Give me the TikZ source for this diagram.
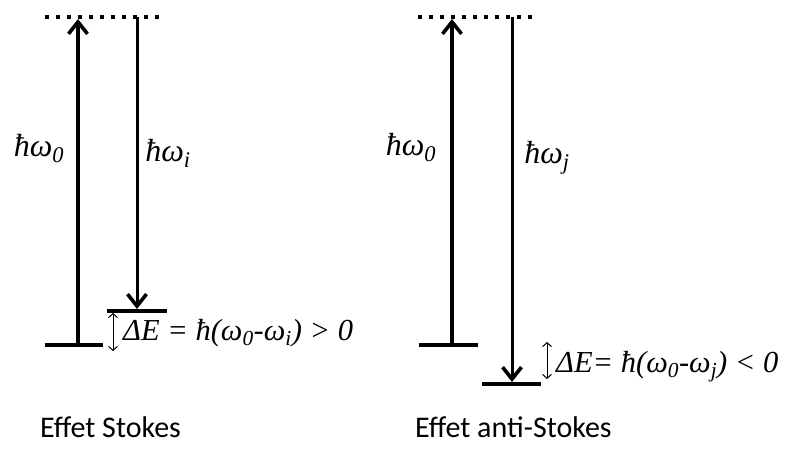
\documentclass[tikz,border=0pt]{standalone}
\usepackage{fontspec}
\setmainfont{Liberation Serif}
\newfontfamily\calibrifont{Carlito}
\usetikzlibrary{arrows.meta}
\tikzset{
  virt/.style={line width=4pt, dash pattern=on 4pt off 7pt},
  level/.style={line width=4pt},
  photon/.style={line width=3.6pt, -{Straight Barb[length=12pt,width=19pt,line width=3.6pt]}},
  gap/.style={line width=1pt, {Straight Barb[length=4pt,width=9pt]}-{Straight Barb[length=4pt,width=9pt]}},
  eq/.style={font=\fontsize{30.5}{32}\selectfont\rmfamily\itshape, inner sep=0pt},
  lab/.style={font=\fontsize{32}{34}\selectfont\rmfamily\itshape, inner sep=0pt},
  captiontext/.style={font=\fontsize{30}{32}\selectfont\calibrifont, inner sep=0pt}
}
\begin{document}
\begin{tikzpicture}[x=1pt,y=-1pt]
\useasboundingbox (0,0) rectangle (791,455);
% ---------- Stokes ----------
\coordinate (vs1) at (45,17);
\coordinate (vs2) at (162,17);
\draw[virt] (vs1) -- (vs2);
\coordinate (gs1) at (45,345);
\coordinate (gs2) at (103,345);
\draw[level] (gs1) -- (gs2);
\coordinate (fs1) at (107,311);
\coordinate (fs2) at (167,311);
\draw[level] (fs1) -- (fs2);
\coordinate (us0) at (78,345);
\coordinate (us1) at (78,19);
\draw[photon] (us0) -- (us1);
\coordinate (ds0) at (137,17);
\coordinate (ds1) at (137,309);
\draw[photon, line width=3pt] (ds0) -- (ds1);
\coordinate (ks0) at (113,313);
\coordinate (ks1) at (113,351);
\draw[gap] (ks0) -- (ks1);
\node[eq, anchor=base west] (des) at (123,340) {ΔE = ħ(ω\textsubscript{0}-ω\textsubscript{i}) > 0};
\node[lab, anchor=base] (h0s) at (39,156) {ħω\textsubscript{0}};
\node[lab, anchor=base] (his) at (168,161) {ħω\textsubscript{i}};
\node[captiontext, anchor=west] (ts) at (40,427) {Effet Stokes};
% ---------- anti-Stokes ----------
\coordinate (va1) at (418,17);
\coordinate (va2) at (534,17);
\draw[virt] (va1) -- (va2);
\coordinate (ga1) at (419,345);
\coordinate (ga2) at (478,345);
\draw[level] (ga1) -- (ga2);
\coordinate (fa1) at (482,384);
\coordinate (fa2) at (541,384);
\draw[level] (fa1) -- (fa2);
\coordinate (ua0) at (452,345);
\coordinate (ua1) at (452,19);
\draw[photon] (ua0) -- (ua1);
\coordinate (da0) at (512,17);
\coordinate (da1) at (512,382);
\draw[photon, line width=3pt] (da0) -- (da1);
\coordinate (ka0) at (547,342);
\coordinate (ka1) at (547,379);
\draw[gap] (ka0) -- (ka1);
\node[eq, anchor=base west] (dea) at (556,372) {ΔE= ħ(ω\textsubscript{0}-ω\textsubscript{j}) < 0};
\node[lab, anchor=base] (h0a) at (411,155) {ħω\textsubscript{0}};
\node[lab, anchor=base] (hja) at (547,163) {ħω\textsubscript{j}};
\node[captiontext, anchor=west] (ta) at (415,427) {Effet anti-Stokes};
\end{tikzpicture}
\end{document}
